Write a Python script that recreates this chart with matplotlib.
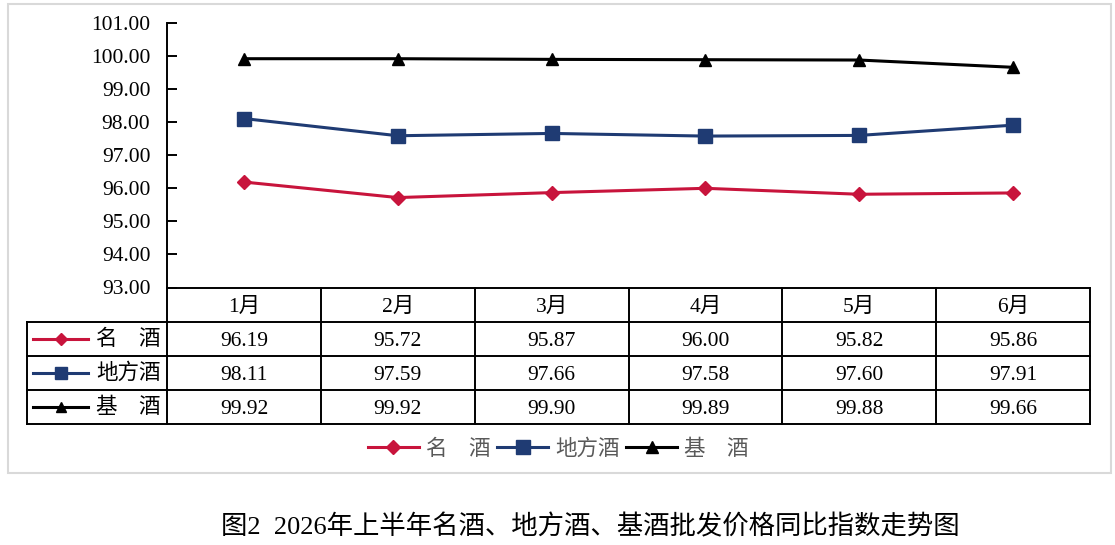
"""Line chart of 2026 H1 liquor wholesale price indices with a data table below."""

import matplotlib

matplotlib.use("Agg")

import matplotlib.pyplot as plt
from matplotlib.patches import Rectangle

plt.rcParams["font.family"] = ["Liberation Serif", "Noto Sans CJK SC", "DejaVu Sans"]

months = ["1月", "2月", "3月", "4月", "5月", "6月"]
series_names = ["名\u3000酒", "地方酒", "基\u3000酒"]
mingjiu = [96.19, 95.72, 95.87, 96.00, 95.82, 95.86]
difangjiu = [98.11, 97.59, 97.66, 97.58, 97.60, 97.91]
jijiu = [99.92, 99.92, 99.90, 99.89, 99.88, 99.66]
y_ticks = [93, 94, 95, 96, 97, 98, 99, 100, 101]
caption = "图2  2026年上半年名酒、地方酒、基酒批发价格同比指数走势图"

W, H = 1115, 545
styles = [
    dict(color="#C8143C", marker="D", markersize=7),
    dict(color="#1F3B73", marker="s", markersize=10),
    dict(color="#000000", marker="^", markersize=9),
]
LW = 1.4


def fig_box(x0, y0, x1, y1):
    """Pixel box (top-left origin) -> figure fraction [left, bottom, width, height]."""
    return [x0 / W, (H - y1) / H, (x1 - x0) / W, (y1 - y0) / H]


fig = plt.figure(figsize=(W / 100, H / 100), dpi=100)
fig.patches.append(
    Rectangle((8 / W, (H - 473) / H), (1111 - 8) / W, (473 - 4) / H,
              transform=fig.transFigure, fill=False, ec="#D9D9D9", lw=1.5)
)

plot_left, plot_right, plot_top, plot_bottom = 167, 1090, 23, 287.5
table_left, table_bottom = 27, 424

ax = fig.add_axes(fig_box(plot_left, plot_top, plot_right, plot_bottom))
xs = list(range(len(months)))
handles = []
for values, name, st in zip([mingjiu, difangjiu, jijiu], series_names, styles):
    (h,) = ax.plot(xs, values, lw=2.2, label=name, clip_on=False, **st)
    handles.append(h)
ax.set_xlim(-0.5, len(months) - 0.5)
ax.set_ylim(y_ticks[0], y_ticks[-1])
ax.set_yticks(y_ticks)
ax.set_yticklabels([f"{v:.2f}" for v in y_ticks], fontsize=15.5)
ax.set_xticks([])
for side in ["top", "right"]:
    ax.spines[side].set_visible(False)
for side in ["left", "bottom"]:
    ax.spines[side].set_linewidth(LW)
ax.tick_params(axis="y", direction="in", length=7, width=LW, pad=12)

# data table under the plot, columns share the plot's x scale
col_w = (plot_right - plot_left) / len(months)
x_left = -0.5 - (plot_left - table_left) / col_w
tax = fig.add_axes(fig_box(table_left, plot_bottom, plot_right, table_bottom))
tax.set_xlim(x_left, len(months) - 0.5)
tax.set_ylim(4, 0)
tax.axis("off")
line_kw = dict(color="black", lw=LW, clip_on=False, solid_capstyle="projecting")
for j in range(len(months) + 1):
    tax.plot([j - 0.5, j - 0.5], [0, 4], **line_kw)
tax.plot([x_left, x_left], [1, 4], **line_kw)
for r in range(1, 5):
    tax.plot([x_left, len(months) - 0.5], [r, r], **line_kw)

for i, m in enumerate(months):
    tax.text(i, 0.58, m, ha="center", va="center", fontsize=15.5)
for r, (values, name, st) in enumerate(zip([mingjiu, difangjiu, jijiu], series_names, styles)):
    y = r + 1.5
    for i, v in enumerate(values):
        tax.text(i, y + 0.08, f"{v:.2f}", ha="center", va="center", fontsize=15.5)
    sx0 = x_left + (33 - table_left) / col_w
    sx1 = x_left + (88 - table_left) / col_w
    tax.plot([sx0, sx1], [y, y], color=st["color"], lw=2.2, clip_on=False)
    tax.plot([(sx0 + sx1) / 2], [y], ls="none", clip_on=False,
             color=st["color"], marker=st["marker"], markersize=st["markersize"] * 0.85)
    tax.text(x_left + (161 - table_left) / col_w, y, name, ha="right", va="center",
             fontsize=15.5, family=["Noto Sans CJK SC", "DejaVu Sans"])

leg = fig.legend(handles=handles, loc="center", bbox_to_anchor=(558 / W, 1 - 449 / H),
                 ncol=3, frameon=False, handlelength=2.4, handletextpad=0.3,
                 columnspacing=0.3, prop={"family": ["Noto Sans CJK SC", "DejaVu Sans"], "size": 15.5})
for t in leg.get_texts():
    t.set_color("#595959")

fig.text(590 / W, 1 - 527 / H, caption, ha="center", va="center", fontsize=19)

fig.savefig("out.png", dpi=100)
